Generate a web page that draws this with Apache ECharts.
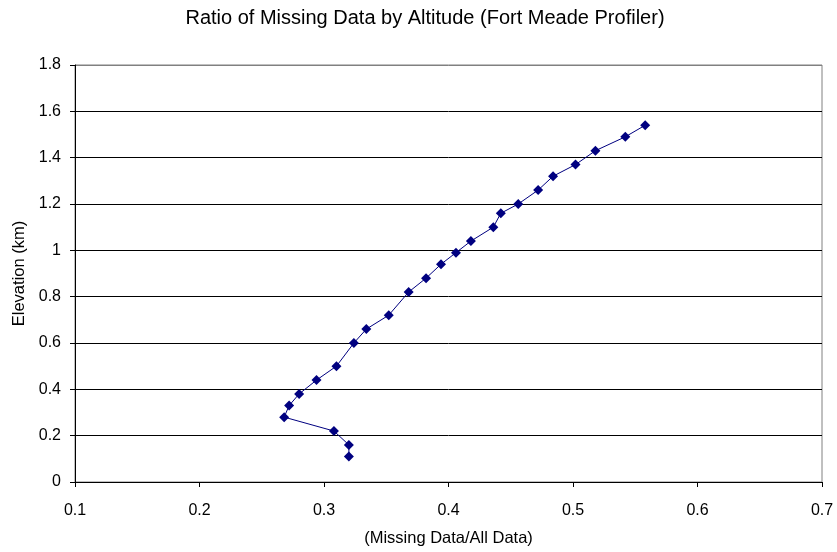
<!DOCTYPE html>
<html>
<head>
<meta charset="utf-8">
<script src="https://cdn.jsdelivr.net/npm/echarts@6/dist/echarts.min.js"></script>
<style>
  html, body { margin: 0; padding: 0; background: #fff; }
  #main { width: 837px; height: 552px; }
</style>
</head>
<body>
<div id="main"></div>
<script>
// ratio of missing data (x) vs elevation in km (y), bottom to top
var ratio = [0.320, 0.320, 0.308, 0.268, 0.272, 0.280, 0.294, 0.310, 0.324, 0.334,
  0.352, 0.368, 0.382, 0.394, 0.406, 0.418, 0.436, 0.442, 0.456, 0.472,
  0.484, 0.502, 0.518, 0.542, 0.558];
var elevation = [0.11, 0.16, 0.22, 0.28, 0.33, 0.38, 0.44, 0.50, 0.60, 0.66,
  0.72, 0.82, 0.88, 0.94, 0.99, 1.04, 1.10, 1.16, 1.20, 1.26,
  1.32, 1.37, 1.43, 1.49, 1.54];

var font = "Liberation Sans, Arial, sans-serif";
var chart = echarts.init(document.getElementById("main"), null, { renderer: "canvas" });

// gridlines are black, the top one is the grey plot border
var gridColors = ["#000", "#000", "#000", "#000", "#000", "#000", "#000", "#000", "#000", "#808080"];

var option = {
  animation: false,
  backgroundColor: "#ffffff",
  title: {
    text: "Ratio of Missing Data by Altitude (Fort Meade Profiler)",
    left: 420,
    textAlign: "center",
    top: 3,
    textStyle: { fontFamily: font, fontSize: 20, fontWeight: "normal", color: "#000" },
  },
  grid: { left: 75, right: 15, top: 65, bottom: 70, show: true, borderColor: "#808080", borderWidth: 1 },
  xAxis: {
    type: "value",
    min: 0.1,
    max: 0.7,
    interval: 0.1,
    name: "(Missing Data/All Data)",
    nameLocation: "middle",
    nameGap: 48,
    nameTextStyle: { fontFamily: font, fontSize: 16.5, color: "#000" },
    axisLine: { show: true, lineStyle: { color: "#000", width: 1 } },
    axisTick: { show: true, inside: false, length: 5, lineStyle: { color: "#000" } },
    axisLabel: { fontFamily: font, fontSize: 16, color: "#000", margin: 21, formatter: function (v) { return +v.toFixed(1); } },
    splitLine: { show: false },
  },
  yAxis: {
    type: "value",
    min: 0,
    max: 1.8,
    interval: 0.2,
    name: "Elevation (km)",
    nameLocation: "middle",
    nameGap: 46,
    nameTextStyle: { fontFamily: font, fontSize: 16.5, color: "#000" },
    axisLine: { show: true, lineStyle: { color: "#000", width: 1 } },
    axisTick: { show: true, inside: false, length: 5, lineStyle: { color: "#000" } },
    axisLabel: { fontFamily: font, fontSize: 16, color: "#000", margin: 14, formatter: function (v) { return +v.toFixed(1); } },
    splitLine: { show: true, lineStyle: { color: gridColors, width: 1 } },
  },
  series: [
    {
      type: "line",
      data: ratio.map(function (r, i) { return [r, elevation[i]]; }),
      symbol: "diamond",
      symbolSize: 10,
      showAllSymbol: true,
      lineStyle: { color: "#000080", width: 1 },
      itemStyle: { color: "#000080" },
    },
  ],
};

chart.setOption(option);
</script>
</body>
</html>
